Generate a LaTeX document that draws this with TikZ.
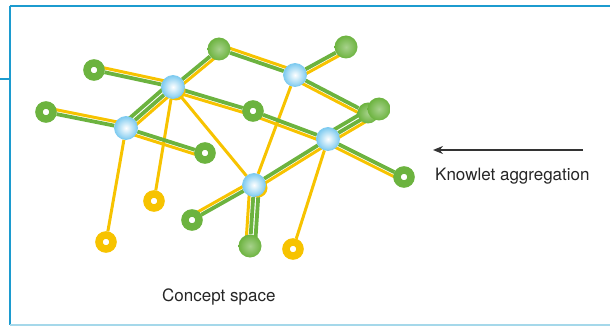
\documentclass[tikz,border=0pt]{standalone}
\usepackage{fontspec}
\setmainfont{TeX Gyre Heros}
\usetikzlibrary{calc,backgrounds,arrows.meta}
\definecolor{gr}{HTML}{6CB33F}
\definecolor{ye}{HTML}{F7C300}
\definecolor{hb}{HTML}{7FCBF0}
\definecolor{fr}{HTML}{1C9BCF}
\definecolor{frl}{HTML}{A5D8EA}
\newcommand\duo[3]{%
  \draw[gline] (#1) -- (#2);
  \draw[yline] ($(#1)!#3!90:(#2)$) -- ($(#2)!#3!-90:(#1)$);}
\newcommand\trio[4]{%
  \draw[gline] (#1) -- (#2);
  \draw[gline] ($(#1)!#4!90:(#2)$) -- ($(#2)!#4!-90:(#1)$);
  \draw[yline] ($(#1)!#3!90:(#2)$) -- ($(#2)!#3!-90:(#1)$);}
\tikzset{
  gline/.style={draw=gr, line width=3.8pt},
  yline/.style={draw=ye, line width=3pt},
  hub/.style={circle, minimum size=23pt, inner sep=0pt, inner color=white, outer color=hb, draw=hb, line width=0.8pt},
  gring/.style={circle, minimum size=14pt, inner sep=0pt, draw=gr, line width=7.5pt, fill=white},
  yring/.style={circle, minimum size=14pt, inner sep=0pt, draw=ye, line width=7.5pt, fill=white},
  gball/.style={circle, minimum size=23pt, inner sep=0pt, inner color=gr!60!white, outer color=gr},
  lbl/.style={anchor=base west, inner sep=0pt, text=black!85, font=\fontsize{17}{20}\selectfont},
  frame/.style={draw=fr, line width=2pt},
}
\begin{document}
\begin{tikzpicture}[x=1pt, y=-1pt]
\useasboundingbox (0,0) rectangle (610,326);
% frame
\draw[frame] (9.5,6.5) -- (610,6.5);
\draw[frame] (9.5,6.5) -- (9.5,325);
\draw[frame] (0,79.5) -- (9.5,79.5);
\draw[draw=frl, line width=2pt] (9.5,324.5) -- (610,324.5);

% hubs
\node[hub] (h1) at (173,87) {};
\node[hub] (h2) at (295,75) {};
\node[hub] (h3) at (126,128) {};
\node[hub] (h4) at (328,139) {};
\node[hub] (h5) at (254,185) {};
% green rings
\node[gring] (g1) at (94,70) {};
\node[gring] (g4) at (46,112) {};
\node[gring] (g5) at (253,111) {};
\node[gring] (g6) at (205,153) {};
\node[gring] (g8) at (404,177) {};
\node[gring] (g9) at (192,220) {};
% green balls
\node[gball] (g2) at (219,49) {};
\node[gball] (g3) at (346,47) {};
\node[gball, minimum size=21pt] (g7a) at (368,113) {};
\node[gball] (g7b) at (379,109) {};
\node[gball] (g10) at (250,246) {};
% yellow rings
\node[yring] (y1) at (154,201) {};
\node[yring] (y2) at (106,242) {};
\node[yring] (y3) at (293,249) {};

\begin{pgfonlayer}{background}
  \draw[yline] (h3) -- (y2);
  \draw[yline] (h1) -- (y1);
  \draw[yline] (h1) -- (h5);
  \draw[yline] (h2) -- (h5);
  \draw[yline] (h4) -- (y3);
  \duo{g1}{h1}{4.2pt}
  \duo{g4}{h3}{4.2pt}
  \duo{h1}{g2}{-4.2pt}
  \duo{g2}{h2}{4.2pt}
  \duo{h2}{g3}{-4.2pt}
  \duo{h2}{g7a}{-4.2pt}
  \trio{h4}{g7b}{-4.2pt}{5pt}
  \duo{h4}{g8}{-4.2pt}
  \duo{h1}{g5}{-4.2pt}
  \duo{g5}{h4}{-4.2pt}
  \duo{h3}{g6}{-4.2pt}
  \duo{h5}{h4}{-4.2pt}
  \duo{g9}{h5}{4.2pt}
  \trio{h5}{g10}{-4.2pt}{5pt}
  \trio{h3}{h1}{-4.2pt}{5pt}
  \fill[ye] ($(h1)+(3,4)$) circle (9.5);
  \fill[ye] ($(h5)+(4,3)$) circle (9.5);
\end{pgfonlayer}

% arrow and labels
\coordinate (as) at (583,150);
\coordinate (ae) at (433,150);
\draw[-{Stealth[length=10pt,width=8pt]}, line width=1.2pt, draw=black!80] (as) -- (ae);
\node[lbl] (kn) at (435,180) {Knowlet aggregation};
\node[lbl] (cs) at (162,301) {Concept space};
\end{tikzpicture}
\end{document}
